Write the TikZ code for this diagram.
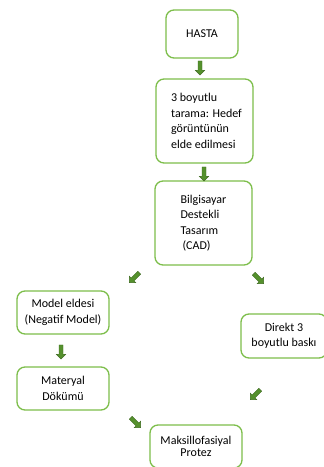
\documentclass[tikz,border=0pt]{standalone}
\usepackage{fontspec}
\setmainfont{Carlito}
\usetikzlibrary{shapes.arrows,calc}
\definecolor{boxgreen}{RGB}{125,190,75}
\definecolor{arrfill}{RGB}{85,145,45}
\definecolor{arrline}{RGB}{60,105,30}
\begin{document}
\begin{tikzpicture}[x=1pt,y=1pt,
  box/.style={draw=boxgreen, line width=1.3pt, rounded corners=8pt, align=center,
    inner sep=0pt, font=\fontsize{12}{15.5}\selectfont},
  blockarrow/.style={single arrow, draw=arrline, fill=arrfill, line width=0.4pt,
    minimum height=14pt, minimum width=9pt, inner sep=1.8pt,
    single arrow head extend=2.6pt, single arrow head indent=0pt}]
\useasboundingbox (0,0) rectangle (324,467);
\fill[white] (0,0) rectangle (324,467);

\node[box, minimum width=72pt, minimum height=48pt] (hasta) at (202,433) {HASTA};
\node[box, minimum width=97pt, minimum height=84pt, align=left] (scan) at (204.5,346)
  {\hspace*{4pt}3 boyutlu\\\hspace*{4pt}tarama: Hedef\\\hspace*{4pt}görüntünün\\\hspace*{4pt}elde edilmesi};
\node[box, minimum width=97pt, minimum height=84pt, align=left] (cad) at (203.5,244)
  {Bilgisayar\\Destekli\\Tasarım\\\hspace*{2pt}(CAD)};
\node[box, minimum width=92pt, minimum height=43pt] (model) at (63,154.5)
  {Model eldesi\\(Negatif Model)};
\node[box, minimum width=92pt, minimum height=43pt] (mat) at (63,78.5)
  {Materyal\\Dökümü};
\node[box, minimum width=86pt, minimum height=44pt] (direkt) at (284,131)
  {Direkt 3\\boyutlu baskı};
\node[box, minimum width=92pt, minimum height=43pt, font=\fontsize{12}{12.5}\selectfont] (maks) at (196,20.5)
  {Maksillofasiyal\\Protez};

\node[blockarrow, rotate=-90] (a1) at (200,400) {};
\node[blockarrow, rotate=-90] (a2) at (204,294) {};
\node[blockarrow, rotate=-135] (a3) at (135,190) {};
\node[blockarrow, rotate=-45] (a4) at (258,189) {};
\node[blockarrow, rotate=-90] (a5) at (61,116) {};
\node[blockarrow, rotate=-45] (a6) at (135,45) {};
\node[blockarrow, rotate=-135] (a7) at (256,73) {};
\end{tikzpicture}
\end{document}
